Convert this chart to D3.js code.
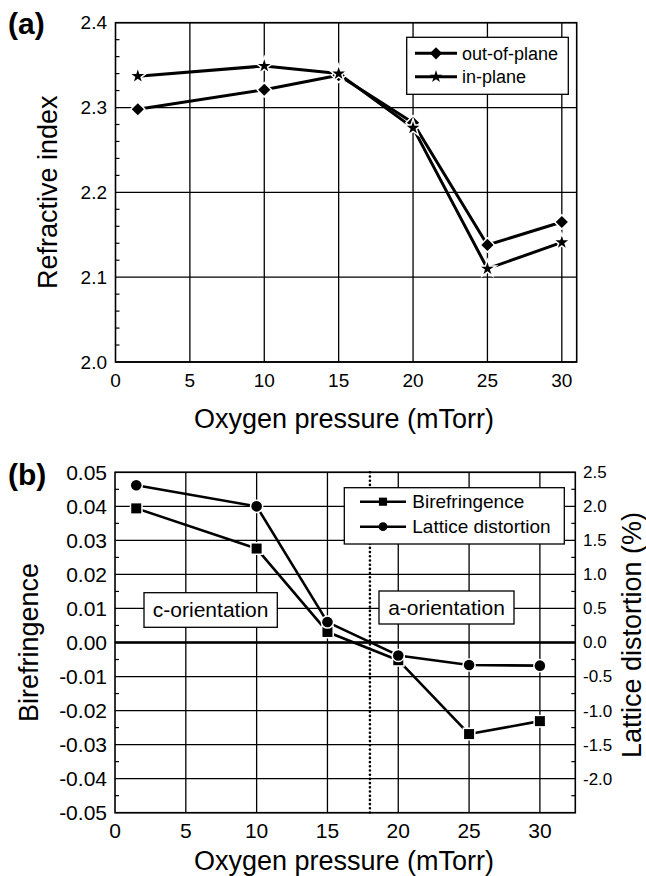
<!DOCTYPE html>
<html><head><meta charset="utf-8">
<script src="https://cdn.jsdelivr.net/npm/d3@7"></script>
<style>
body{margin:0;background:#fff}
svg{display:block}
text{font-family:"Liberation Sans",Arial,Helvetica,sans-serif;fill:#000}
</style>
</head><body>
<svg id="chart" width="646" height="876"></svg>
<script>
// ---------- data ----------
const pressure = [1.5, 10, 15, 20, 25, 30];
const outOfPlane = [2.298, 2.321, 2.338, 2.282, 2.138, 2.165];
const inPlane = [2.337, 2.349, 2.340, 2.276, 2.110, 2.141];
const birefringence = [0.0394, 0.0276, 0.0031, -0.0052, -0.0269, -0.0231];
const latticeDistortion = [2.31, 2.00, 0.30, -0.19, -0.33, -0.34];

const xTicks = [0, 5, 10, 15, 20, 25, 30];
const yTicksA = [2.0, 2.1, 2.2, 2.3, 2.4];
const yTicksB = [-0.05, -0.04, -0.03, -0.02, -0.01, 0.00, 0.01, 0.02, 0.03, 0.04, 0.05];
const yTicksR = [-2.0, -1.5, -1.0, -0.5, 0.0, 0.5, 1.0, 1.5, 2.0, 2.5];
const legendA = ["out-of-plane", "in-plane"];
const legendB = ["Birefringence", "Lattice distortion"];
const xTitle = "Oxygen pressure (mTorr)";

const svg = d3.select("#chart");
const F = '"Liberation Sans",Arial,Helvetica,sans-serif';

function text(g, x, y, s, size, anchor, extra) {
  const t = g.append("text").attr("x", x).attr("y", y).text(s)
    .attr("font-size", size).attr("text-anchor", anchor || "start");
  if (extra) extra(t);
  return t;
}
function sym(type, size, rot) {
  return d3.symbol().type(type).size(size)();
}

// ---------- generic panel ----------
function frameAndGrid(g, x, y, xt, yt, minorY, minorDir) {
  const [x0, x1] = x.range();
  const [yb, yt0] = y.range();
  // grid
  g.append("g").selectAll("line").data(xt.filter(d => d > 0)).join("line")
    .attr("x1", d => x(d)).attr("x2", d => x(d)).attr("y1", yb).attr("y2", yt0)
    .attr("stroke", "#000").attr("stroke-width", 1.3);
  g.append("g").selectAll("line").data(yt).join("line")
    .attr("x1", x0).attr("x2", x1).attr("y1", d => y(d)).attr("y2", d => y(d))
    .attr("stroke", "#000").attr("stroke-width", 1.3);
  // minor ticks on left, inward
  g.append("g").selectAll("line").data(minorY).join("line")
    .attr("x1", x0).attr("x2", x0 + 4).attr("y1", d => y(d)).attr("y2", d => y(d))
    .attr("stroke", "#000").attr("stroke-width", 1.2);
}

// ================= Panel (a) =================
const xA = d3.scaleLinear().domain([0, 31]).range([115.5, 576.7]);
const yA = d3.scaleLinear().domain([2.0, 2.4]).range([362, 22.7]);
const gA = svg.append("g");
const minorA = d3.range(2.0, 2.4001, 0.02).filter(v => Math.abs(v * 10 - Math.round(v * 10)) > 1e-6);
frameAndGrid(gA, xA, yA, xTicks, yTicksA, minorA);
gA.append("rect").attr("x", 115.5).attr("y", 22.7).attr("width", 576.7 - 115.5).attr("height", 362 - 22.7)
  .attr("fill", "none").attr("stroke", "#000").attr("stroke-width", 1.6);

// tick labels
gA.append("g").selectAll("text").data(yTicksA).join("text")
  .attr("x", 107).attr("y", d => yA(d)).attr("dy", "0.35em").attr("text-anchor", "end")
  .attr("font-size", 19).text(d => d.toFixed(1));
gA.append("g").selectAll("text").data(xTicks).join("text")
  .attr("x", d => xA(d)).attr("y", 387).attr("text-anchor", "middle")
  .attr("font-size", 19).text(d => d);

// data lines
const lineA = d3.line().x((d, i) => xA(pressure[i])).y(d => yA(d));
const DIAM = d3.symbol().type(d3.symbolSquare).size(74);
const STAR = d3.symbol().type(d3.symbolStar).size(50);
[outOfPlane, inPlane].forEach(s => {
  gA.append("path").datum(s).attr("d", lineA).attr("fill", "none")
    .attr("stroke", "#000").attr("stroke-width", 3).attr("stroke-linejoin", "round");
});
function markers(g, data, xs, ys, gen, rot, halo) {
  g.append("g").selectAll("path").data(data).join("path")
    .attr("transform", (d, i) => `translate(${xs(pressure[i])},${ys(d)}) rotate(${rot})`)
    .attr("d", gen).attr("fill", "#fff").attr("stroke", "#fff").attr("stroke-width", halo);
  g.append("g").selectAll("path").data(data).join("path")
    .attr("transform", (d, i) => `translate(${xs(pressure[i])},${ys(d)}) rotate(${rot})`)
    .attr("d", gen).attr("fill", "#000");
}
markers(gA, outOfPlane, xA, yA, DIAM, 45, 3);
markers(gA, inPlane, xA, yA, STAR, 0, 3);

// legend (a)
const lgA = gA.append("g");
lgA.append("rect").attr("x", 406.7).attr("y", 37.3).attr("width", 161.6).attr("height", 57)
  .attr("fill", "#fff").attr("stroke", "#000").attr("stroke-width", 1.3);
[[53.3, DIAM, 45], [76.7, STAR, 0]].forEach((r, i) => {
  lgA.append("line").attr("x1", 415).attr("x2", 457).attr("y1", r[0]).attr("y2", r[0])
    .attr("stroke", "#000").attr("stroke-width", 3);
  lgA.append("path").attr("d", r[1]).attr("transform", `translate(436,${r[0]}) rotate(${r[2]})`).attr("fill", "#000");
  text(lgA, 462, r[0], legendA[i], 18).attr("dy", "0.35em");
});

// labels (a)
text(gA, 8, 34, "(a)", 30).attr("font-weight", "bold");
text(gA, 0, 0, "Refractive index", 27, "middle").attr("x", null).attr("y", null)
  .attr("transform", "translate(57,192.3) rotate(-90)");
text(gA, 344, 428, xTitle, 27, "middle");

// ================= Panel (b) =================
const xB = d3.scaleLinear().domain([0, 32.5]).range([115, 575.3]);
const yB = d3.scaleLinear().domain([-0.05, 0.05]).range([812.7, 472.3]);
const yR = d3.scaleLinear().domain([-2.5, 2.5]).range([812.7, 472.3]);
const gB = svg.append("g");
const minorB = d3.range(-0.045, 0.05, 0.01);
frameAndGrid(gB, xB, yB, xTicks, yTicksB, minorB);
// right minor ticks
const minorR = d3.range(-2.25, 2.5, 0.5);
gB.append("g").selectAll("line").data(minorR).join("line")
  .attr("x1", 575.3).attr("x2", 571.3).attr("y1", d => yR(d)).attr("y2", d => yR(d))
  .attr("stroke", "#000").attr("stroke-width", 1.2);
// zero line
gB.append("line").attr("x1", 115).attr("x2", 575.3).attr("y1", yB(0)).attr("y2", yB(0))
  .attr("stroke", "#000").attr("stroke-width", 2.6);
// dotted line at 18 mTorr
gB.append("line").attr("x1", xB(18)).attr("x2", xB(18)).attr("y1", yB(0.05)).attr("y2", yB(-0.05))
  .attr("stroke", "#000").attr("stroke-width", 2.6).attr("stroke-linecap", "round")
  .attr("stroke-dasharray", "0,4.2");
gB.append("rect").attr("x", 115).attr("y", 472.3).attr("width", 575.3 - 115).attr("height", 812.7 - 472.3)
  .attr("fill", "none").attr("stroke", "#000").attr("stroke-width", 1.6);

// tick labels
gB.append("g").selectAll("text").data(yTicksB).join("text")
  .attr("x", 107).attr("y", d => yB(d)).attr("dy", "0.35em").attr("text-anchor", "end")
  .attr("font-size", 21).text(d => (Math.abs(d) < 1e-9 ? 0 : d).toFixed(2));
gB.append("g").selectAll("text").data(yTicksR).join("text")
  .attr("x", 583).attr("y", d => yR(d)).attr("dy", "0.35em").attr("text-anchor", "start")
  .attr("font-size", 17).text(d => (Math.abs(d) < 1e-9 ? 0 : d).toFixed(1));
gB.append("g").selectAll("text").data(xTicks).join("text")
  .attr("x", d => xB(d)).attr("y", 838).attr("text-anchor", "middle")
  .attr("font-size", 21).text(d => d);

// annotation boxes
function annot(g, x, y, w, h, s) {
  g.append("rect").attr("x", x).attr("y", y).attr("width", w).attr("height", h)
    .attr("fill", "#fff").attr("stroke", "#000").attr("stroke-width", 1.3);
  text(g, x + w / 2, y + h / 2, s, 21, "middle").attr("dy", "0.35em");
}
annot(gB, 144, 592.7, 133.3, 34.6, "c-orientation");
annot(gB, 379, 591, 135, 33, "a-orientation");

// data lines
const lineB = d3.line().x((d, i) => xB(pressure[i])).y(d => yB(d));
const lineR = d3.line().x((d, i) => xB(pressure[i])).y(d => yR(d));
gB.append("path").datum(birefringence).attr("d", lineB).attr("fill", "none")
  .attr("stroke", "#000").attr("stroke-width", 2.6).attr("stroke-linejoin", "round");
gB.append("path").datum(latticeDistortion).attr("d", lineR).attr("fill", "none")
  .attr("stroke", "#000").attr("stroke-width", 2.6).attr("stroke-linejoin", "round");
const SQ = d3.symbol().type(d3.symbolSquare).size(100);
const CI = d3.symbol().type(d3.symbolCircle).size(88);
markers(gB, birefringence, xB, yB, SQ, 0, 3);
markers(gB, latticeDistortion, xB, yR, CI, 0, 3);

// legend (b)
const lgB = gB.append("g");
lgB.append("rect").attr("x", 344.3).attr("y", 487.7).attr("width", 220).attr("height", 56.3)
  .attr("fill", "#fff").attr("stroke", "#000").attr("stroke-width", 1.3);
const SQs = d3.symbol().type(d3.symbolSquare).size(66)();
const CIs = d3.symbol().type(d3.symbolCircle).size(60)();
[[501.7, SQs], [526.7, CIs]].forEach((r, i) => {
  lgB.append("line").attr("x1", 360).attr("x2", 406).attr("y1", r[0]).attr("y2", r[0])
    .attr("stroke", "#000").attr("stroke-width", 2.6);
  lgB.append("path").attr("d", r[1]).attr("transform", `translate(383,${r[0]})`).attr("fill", "#000");
  text(lgB, 412.3, r[0], legendB[i], 19).attr("dy", "0.35em");
});

// labels (b)
text(gB, 8, 485, "(b)", 30).attr("font-weight", "bold");
gB.append("text").attr("font-size", 27).attr("text-anchor", "middle")
  .attr("transform", "translate(38,642.5) rotate(-90)").text("Birefringence");
gB.append("text").attr("font-size", 27).attr("text-anchor", "middle")
  .attr("transform", "translate(641,635) rotate(-90)").text("Lattice distortion (%)");
text(gB, 344, 870, xTitle, 27, "middle");
</script>
</body></html>
